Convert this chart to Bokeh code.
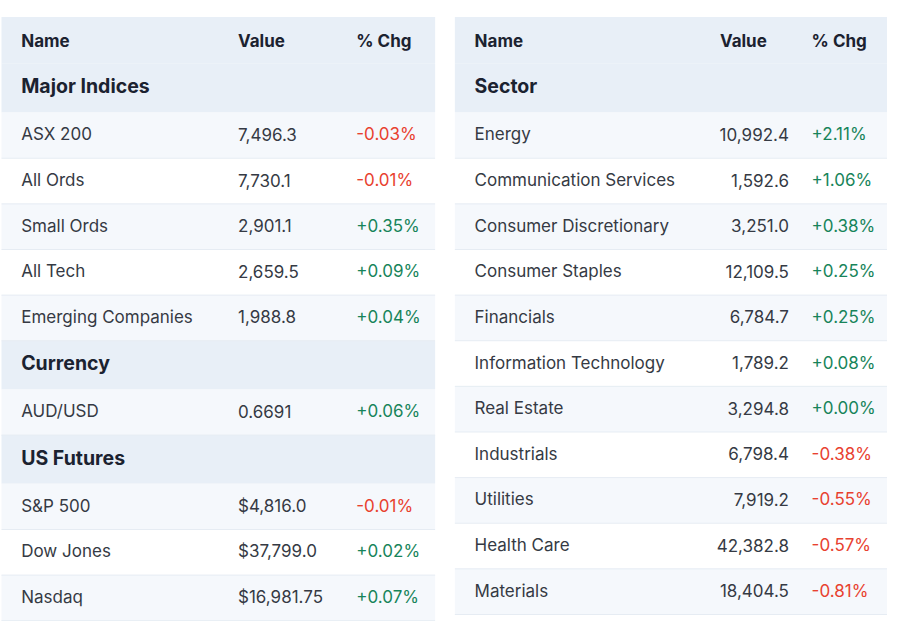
from bokeh.plotting import figure
from bokeh.models import Range1d, ColumnDataSource
from bokeh.core.properties import value
from bokeh.embed import file_html
from bokeh.resources import INLINE

# ---------------- data ----------------
header_cols = ["Name", "Value", "% Chg"]

major_title = "Major Indices"
major_names = ["ASX 200", "All Ords", "Small Ords", "All Tech", "Emerging Companies"]
major_values = [7496.3, 7730.1, 2901.1, 2659.5, 1988.8]
major_decimals = [1, 1, 1, 1, 1]
major_chg = [-0.03, -0.01, 0.35, 0.09, 0.04]

currency_title = "Currency"
currency_names = ["AUD/USD"]
currency_values = [0.6691]
currency_decimals = [4]
currency_chg = [0.06]

futures_title = "US Futures"
futures_names = ["S&P 500", "Dow Jones", "Nasdaq"]
futures_values = [4816.0, 37799.0, 16981.75]
futures_decimals = [1, 1, 2]
futures_prefix = "$"
futures_chg = [-0.01, 0.02, 0.07]

sector_title = "Sector"
sector_names = ["Energy", "Communication Services", "Consumer Discretionary",
                "Consumer Staples", "Financials", "Information Technology",
                "Real Estate", "Industrials", "Utilities", "Health Care", "Materials"]
sector_values = [10992.4, 1592.6, 3251.0, 12109.5, 6784.7, 1789.2,
                 3294.8, 6798.4, 7919.2, 42382.8, 18404.5]
sector_decimals = [1] * 11
sector_chg = [2.11, 1.06, 0.38, 0.25, 0.25, 0.08, 0.00, -0.38, -0.55, -0.57, -0.81]

# ---------------- style ----------------
FONT = "Inter"
HEAD_BG = "#E8EFF7"
ROW_LIGHT = "#F5F8FC"
ROW_WHITE = "#FFFFFF"
BORDER = "#E6ECF3"
HEAD_TXT = "#1B2230"
BODY_TXT = "#353A44"
RED = "#E8412F"
GREEN = "#17845A"

TOP = 17
HEAD_H = 48
SEC_H = 50
ROW_H = 46.8

p = figure(width=887, height=621, x_range=Range1d(0, 900), y_range=Range1d(637, 0),
           output_backend="svg", toolbar_location=None, min_border=0)
p.axis.visible = False
p.grid.visible = False
p.outline_line_color = None
p.background_fill_color = "white"
p.border_fill_color = "white"

rects = dict(l=[], r=[], t=[], b=[], c=[])
lines = dict(x0=[], x1=[], y=[])
texts = {k: dict(x=[], y=[], t=[], c=[]) for k in
         ["head", "sec", "body_l", "body_r_right"]}


def add_rect(l, r, t, b, c):
    rects["l"].append(l); rects["r"].append(r)
    rects["t"].append(t); rects["b"].append(b); rects["c"].append(c)


def add_text(kind, x, y, t, c):
    texts[kind]["x"].append(x); texts[kind]["y"].append(y)
    texts[kind]["t"].append(t); texts[kind]["c"].append(c)


def fmt_val(v, d, prefix=""):
    return prefix + f"{v:,.{d}f}"


def fmt_chg(c):
    return ("+" if c >= 0 else "-") + f"{abs(c):.2f}%"


def build(x0, x1, col_x, value_right, sections):
    y = TOP
    add_rect(x0, x1, y, y + HEAD_H, HEAD_BG)
    for i, h in enumerate(header_cols):
        add_text("head", col_x[i], y + HEAD_H / 2 + 1, h, HEAD_TXT)
    y += HEAD_H
    for title, names, vals, decs, prefix, chgs in sections:
        add_rect(x0, x1, y, y + SEC_H, HEAD_BG)
        add_text("sec", col_x[0], y + SEC_H / 2 - 2, title, HEAD_TXT)
        y += SEC_H
        for j, (n, v, d, c) in enumerate(zip(names, vals, decs, chgs)):
            add_rect(x0, x1, y, y + ROW_H, ROW_LIGHT if j % 2 == 0 else ROW_WHITE)
            cy = y + ROW_H / 2 - 1
            add_text("body_l", col_x[0], cy, n, BODY_TXT)
            if value_right is None:
                add_text("body_l", col_x[1], cy, fmt_val(v, d, prefix), BODY_TXT)
            else:
                add_text("body_r_right", value_right, cy, fmt_val(v, d, prefix), BODY_TXT)
            add_text("body_l", col_x[2], cy, fmt_chg(c), GREEN if c >= 0 else RED)
            y += ROW_H
            lines["x0"].append(x0); lines["x1"].append(x1); lines["y"].append(y)


build(1, 441, [21, 241, 361], None, [
    (major_title, major_names, major_values, major_decimals, "", major_chg),
    (currency_title, currency_names, currency_values, currency_decimals, "", currency_chg),
    (futures_title, futures_names, futures_values, futures_decimals, futures_prefix, futures_chg),
])
build(461, 901, [481, 730, 823], 800, [
    (sector_title, sector_names, sector_values, sector_decimals, "", sector_chg),
])

p.quad(left="l", right="r", top="t", bottom="b", fill_color="c", line_color=None,
       source=ColumnDataSource(rects))
p.segment(x0="x0", x1="x1", y0="y", y1="y", line_color=BORDER, line_width=1,
          source=ColumnDataSource(lines))

p.text(x="x", y="y", text="t", text_color="c", source=ColumnDataSource(texts["head"]),
       text_font=value(FONT), text_font_size="17px", text_font_style="bold",
       text_baseline="middle", text_align="left")
p.text(x="x", y="y", text="t", text_color="c", source=ColumnDataSource(texts["sec"]),
       text_font=value(FONT), text_font_size="19.5px", text_font_style="bold",
       text_baseline="middle", text_align="left")
p.text(x="x", y="y", text="t", text_color="c", source=ColumnDataSource(texts["body_l"]),
       text_font=value(FONT), text_font_size="17px",
       text_baseline="middle", text_align="left")
p.text(x="x", y="y", text="t", text_color="c", source=ColumnDataSource(texts["body_r_right"]),
       text_font=value(FONT), text_font_size="17px",
       text_baseline="middle", text_align="right")

open("out.html", "w").write(file_html(p, INLINE))
